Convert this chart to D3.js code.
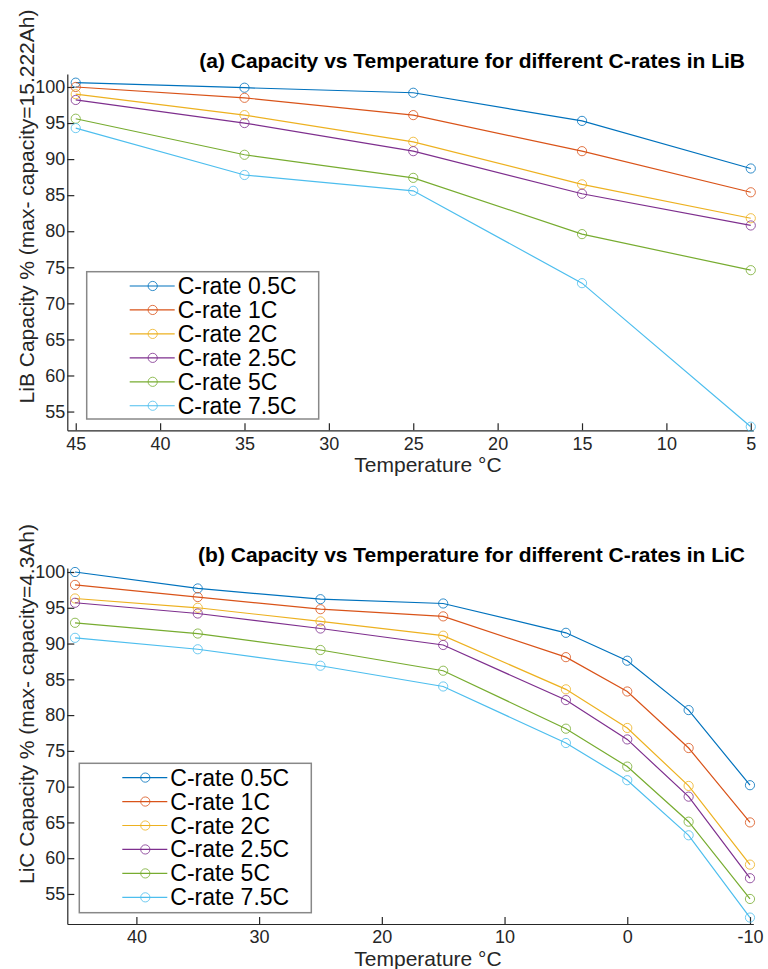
<!DOCTYPE html>
<html>
<head>
<meta charset="utf-8">
<script src="https://cdn.jsdelivr.net/npm/d3@7"></script>
<style>
  body { margin: 0; background: #fff; }
  svg { display: block; font-family: "Liberation Sans", Arial, sans-serif; }
  .tick text { fill: #262626; font-size: 18px; }
  .tick line, .domain { stroke: #262626; }
</style>
</head>
<body>
<div id="chart"></div>
<script>
// Series names and colours (MATLAB default order)
var seriesNames = ["C-rate 0.5C", "C-rate 1C", "C-rate 2C", "C-rate 2.5C", "C-rate 5C", "C-rate 7.5C"];
var seriesColors = ["#0072BD", "#D95319", "#EDB120", "#7E2F8E", "#77AC30", "#4DBEEE"];

// (a) LiB data
var libTemps = [45, 35, 25, 15, 5];
var libC05 = [100.6, 99.9, 99.2, 95.3, 88.7];
var libC1 = [100.0, 98.5, 96.1, 91.1, 85.4];
var libC2 = [99.0, 96.1, 92.4, 86.5, 81.8];
var libC25 = [98.2, 95.0, 91.1, 85.2, 80.8];
var libC5 = [95.6, 90.6, 87.4, 79.6, 74.6];
var libC75 = [94.3, 87.8, 85.6, 72.8, 52.9];
var libXTicks = [45, 40, 35, 30, 25, 20, 15, 10, 5];

// (b) LiC data
var licTemps = [45, 35, 25, 15, 5, 0, -5, -10];
var licC05 = [100.0, 97.7, 96.2, 95.6, 91.5, 87.6, 80.7, 70.2];
var licC1 = [98.2, 96.5, 94.8, 93.8, 88.1, 83.3, 75.4, 65.0];
var licC2 = [96.3, 95.0, 93.1, 91.1, 83.6, 78.2, 70.1, 59.1];
var licC25 = [95.7, 94.2, 92.1, 89.8, 82.1, 76.6, 68.6, 57.2];
var licC5 = [92.9, 91.4, 89.1, 86.2, 78.1, 72.8, 65.1, 54.3];
var licC75 = [90.8, 89.2, 86.9, 84.0, 76.1, 70.9, 63.2, 51.7];
var licXTicks = [40, 30, 20, 10, 0, -10];

var yTicks = [55, 60, 65, 70, 75, 80, 85, 90, 95, 100];

var svg = d3.select("#chart")
  .append("svg")
  .attr("width", 768)
  .attr("height", 969);

function drawPanel(cfg) {
  var g = svg.append("g");

  var x = d3.scaleLinear().domain(cfg.xDomain).range([67.3, 753.3]);
  var y = d3.scaleLinear().domain(cfg.yDomain).range([cfg.bottom, cfg.top]);

  // Axes with inward ticks (plain hyphen for negatives, like the original)
  g.append("g")
    .attr("transform", `translate(0, ${cfg.bottom})`)
    .call(d3.axisBottom(x).tickValues(cfg.xTicks).tickSizeInner(-7).tickSizeOuter(0).tickPadding(6.5).tickFormat(d => String(d)))
    .call(a => a.select(".domain").attr("stroke-width", 1.2));

  g.append("g")
    .attr("transform", `translate(67.3, 0)`)
    .call(d3.axisLeft(y).tickValues(yTicks).tickSizeInner(-7).tickSizeOuter(0).tickPadding(2))
    .call(a => a.select(".domain").attr("stroke-width", 1.2));

  g.selectAll(".tick text").style("font-size", "18px");
  g.selectAll(".tick line").attr("stroke-width", 1.2);

  // Lines and markers
  var line = d3.line()
    .x(d => x(d.t))
    .y(d => y(d.v));

  cfg.series.forEach(function(vals, i) {
    var pts = vals.map((v, j) => ({t: cfg.temps[j], v: v}));
    g.append("path")
      .datum(pts)
      .attr("fill", "none")
      .attr("stroke", seriesColors[i])
      .attr("stroke-width", 1.2)
      .attr("d", line);
    g.selectAll(null)
      .data(pts)
      .enter()
      .append("circle")
      .attr("cx", d => x(d.t))
      .attr("cy", d => y(d.v))
      .attr("r", 4.6)
      .attr("fill", "none")
      .attr("stroke", seriesColors[i])
      .attr("stroke-opacity", 0.8)
      .attr("stroke-width", 1);
  });

  // Title
  g.append("text")
    .attr("x", 745)
    .attr("y", cfg.titleY)
    .attr("text-anchor", "end")
    .style("font-size", "21px")
    .style("font-weight", "bold")
    .attr("fill", "#000")
    .text(cfg.title);

  // Axis labels
  g.append("text")
    .attr("transform", `translate(33.5, ${cfg.yLabelMid}) rotate(-90)`)
    .attr("text-anchor", "middle")
    .style("font-size", "21px")
    .attr("fill", "#262626")
    .text(cfg.yLabel);

  g.append("text")
    .attr("x", 428)
    .attr("y", cfg.bottom + 41.5)
    .attr("text-anchor", "middle")
    .style("font-size", "21px")
    .attr("fill", "#262626")
    .text("Temperature °C");

  // Legend
  var lg = cfg.legend;
  g.append("rect")
    .attr("x", lg.x)
    .attr("y", lg.y)
    .attr("width", 232)
    .attr("height", lg.h)
    .attr("fill", "#fff")
    .attr("stroke", "#888")
    .attr("stroke-width", 1.5);

  seriesNames.forEach(function(name, i) {
    var cy = lg.y + 14.3 + i * 23.95;
    g.append("line")
      .attr("x1", lg.x + 43).attr("x2", lg.x + 88)
      .attr("y1", cy).attr("y2", cy)
      .attr("stroke", seriesColors[i])
      .attr("stroke-width", 1.2);
    g.append("circle")
      .attr("cx", lg.x + 66).attr("cy", cy)
      .attr("r", 4.6)
      .attr("fill", "none")
      .attr("stroke", seriesColors[i])
      .attr("stroke-opacity", 0.8);
    g.append("text")
      .attr("x", lg.x + 91)
      .attr("y", cy + 8)
      .style("font-size", "23px")
      .attr("fill", "#000")
      .text(name);
  });
}

drawPanel({
  temps: libTemps,
  series: [libC05, libC1, libC2, libC25, libC5, libC75],
  xDomain: [45.5, 4.85],
  yDomain: [52.4, 101.8],
  xTicks: libXTicks,
  top: 74,
  bottom: 430.3,
  title: "(a) Capacity vs Temperature for different C-rates in LiB",
  titleY: 68.2,
  yLabel: "LiB Capacity % (max- capacity=15.222Ah)",
  yLabelMid: 206.5,
  legend: {x: 86.7, y: 271.7, h: 147.3}
});

drawPanel({
  temps: licTemps,
  series: [licC05, licC1, licC2, licC25, licC5, licC75],
  xDomain: [45.63, -10.27],
  yDomain: [50.8, 100.56],
  xTicks: licXTicks,
  top: 568,
  bottom: 924,
  title: "(b) Capacity vs Temperature for different C-rates in LiC",
  titleY: 561.5,
  yLabel: "LiC Capacity % (max- capacity=4.3Ah)",
  yLabelMid: 704,
  legend: {x: 79.3, y: 763.3, h: 149.4}
});
</script>
</body>
</html>
